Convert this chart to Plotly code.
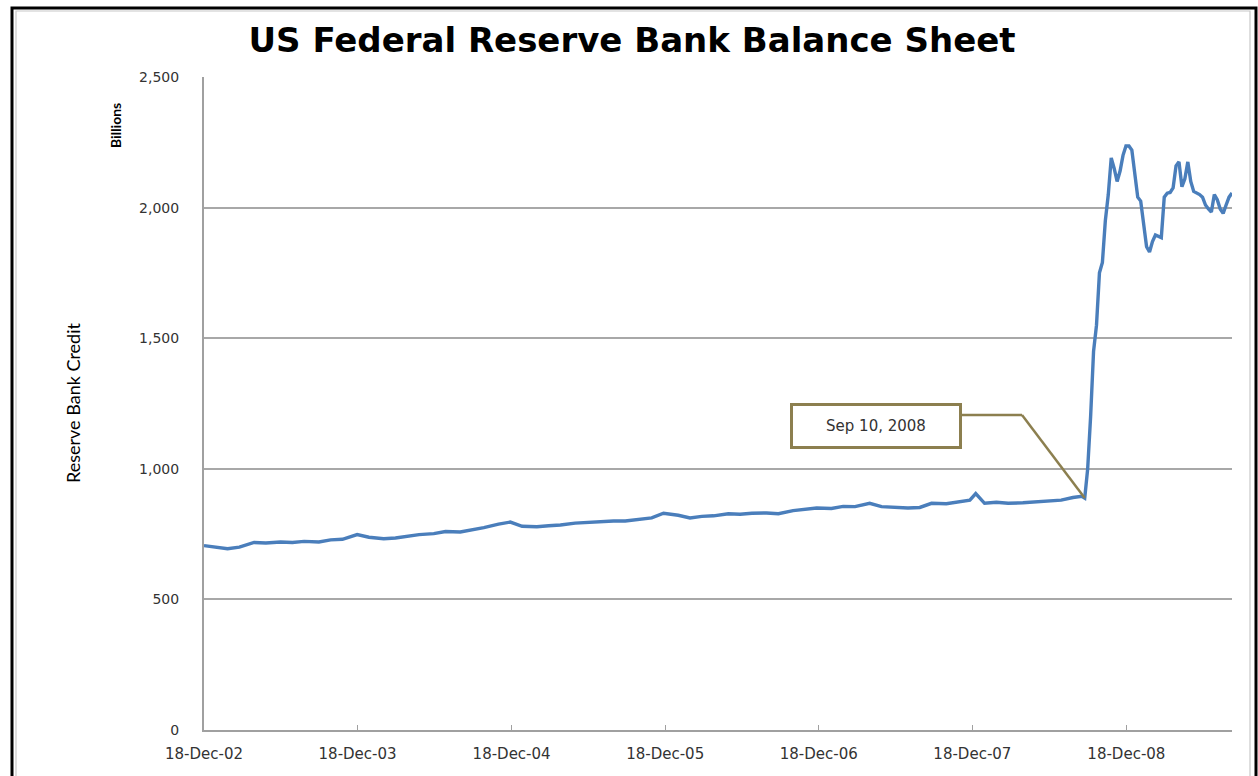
import plotly.graph_objects as go

# ---- data ----
dates_pre = [
    "2002-12-18", "2003-01-15", "2003-02-12", "2003-03-12", "2003-04-16", "2003-05-14",
    "2003-06-18", "2003-07-16", "2003-08-13", "2003-09-17", "2003-10-15", "2003-11-12",
    "2003-12-17", "2004-01-14", "2004-02-18", "2004-03-17", "2004-04-14", "2004-05-12",
    "2004-06-16", "2004-07-14", "2004-08-18", "2004-09-15", "2004-10-13", "2004-11-17",
    "2004-12-15", "2005-01-12", "2005-02-16", "2005-03-16", "2005-04-13", "2005-05-18",
    "2005-06-15", "2005-07-13", "2005-08-17", "2005-09-14", "2005-10-12", "2005-11-16",
    "2005-12-14", "2006-01-18", "2006-02-15", "2006-03-15", "2006-04-12", "2006-05-17",
    "2006-06-14", "2006-07-12", "2006-08-16", "2006-09-13", "2006-10-18", "2006-11-15",
    "2006-12-13", "2007-01-17", "2007-02-14", "2007-03-14", "2007-04-18", "2007-05-16",
    "2007-06-13", "2007-07-18", "2007-08-15", "2007-09-12", "2007-10-17", "2007-11-14",
    "2007-12-12", "2007-12-26", "2008-01-16", "2008-02-13", "2008-03-12", "2008-04-16",
    "2008-05-14", "2008-06-18", "2008-07-16", "2008-08-13", "2008-09-03",
]
values_pre = [
    706, 700, 694, 700, 718, 716,
    720, 718, 722, 720, 728, 730,
    748, 738, 732, 735, 742, 748,
    752, 760, 758, 766, 775, 788,
    796, 780, 778, 782, 785, 792,
    795, 797, 800, 800, 804, 812,
    830, 822, 812, 818, 820, 828,
    826, 830, 831, 828, 840, 845,
    850, 848, 856, 855, 868, 855,
    852, 850, 852, 868, 866, 872,
    880, 905, 868, 872, 868, 870,
    873, 878, 880, 890, 895,
]
dates_crisis = [
    "2008-09-10", "2008-09-17", "2008-09-24", "2008-10-01", "2008-10-08", "2008-10-15",
    "2008-10-22", "2008-10-29", "2008-11-05", "2008-11-12", "2008-11-19", "2008-11-26",
    "2008-12-03", "2008-12-10", "2008-12-17", "2008-12-24", "2008-12-31", "2009-01-07",
    "2009-01-14", "2009-01-21", "2009-01-28", "2009-02-04", "2009-02-11", "2009-02-18",
    "2009-02-25", "2009-03-04", "2009-03-11", "2009-03-18", "2009-03-25", "2009-04-01",
    "2009-04-08", "2009-04-15", "2009-04-22", "2009-04-29", "2009-05-06", "2009-05-13",
    "2009-05-20", "2009-05-27", "2009-06-03", "2009-06-10", "2009-06-17", "2009-06-24",
    "2009-07-01", "2009-07-08", "2009-07-15", "2009-07-22", "2009-07-29", "2009-08-05",
    "2009-08-12", "2009-08-19", "2009-08-26",
]
values_crisis = [
    888, 1000, 1200, 1450, 1550, 1750,
    1790, 1950, 2050, 2190, 2150, 2100,
    2140, 2200, 2236, 2236, 2220, 2120,
    2040, 2025, 1940, 1850, 1830, 1870,
    1895, 1890, 1885, 2040, 2055, 2058,
    2075, 2160, 2175, 2080, 2110, 2175,
    2100, 2062, 2056, 2050, 2040, 2010,
    1995, 1983, 2050, 2030, 1995, 1978,
    2010, 2040, 2056,
]
dates = dates_pre + dates_crisis
values = values_pre + values_crisis

tick_dates = ["2002-12-18", "2003-12-18", "2004-12-18", "2005-12-18",
              "2006-12-18", "2007-12-18", "2008-12-18"]
tick_labels = ["18-Dec-02", "18-Dec-03", "18-Dec-04", "18-Dec-05",
               "18-Dec-06", "18-Dec-07", "18-Dec-08"]
y_ticks = [0, 500, 1000, 1500, 2000, 2500]

event_date = "2008-09-10"
event_value = 888
event_label = "Sep 10, 2008"

# ---- figure ----
W, H = 1258, 776
ML, MR, MT, MB = 204, 26, 77, 46
PW, PH = W - ML - MR, H - MT - MB

def px(x):
    return (x - ML) / PW

def py(y):
    return (H - MB - y) / PH

fig = go.Figure()
fig.add_trace(go.Scatter(
    x=dates, y=values, mode="lines",
    line=dict(color="#4a7ebb", width=3.4),
    hoverinfo="x+y", showlegend=False,
))

olive = "#8c7f4f"
shapes = [
    # outer black frame
    dict(type="rect", xref="paper", yref="paper",
         x0=px(12), x1=px(1256), y0=py(790), y1=py(8),
         line=dict(color="black", width=3), layer="below"),
    # inner thin grey frame
    dict(type="rect", xref="paper", yref="paper",
         x0=px(16), x1=px(1250), y0=py(790), y1=py(11),
         line=dict(color="#c8c8c8", width=1.2), layer="below"),
    # connector: horizontal part from the box
    dict(type="line", xref="paper", yref="paper",
         x0=px(960), x1=px(1022), y0=py(415), y1=py(415),
         line=dict(color=olive, width=2.5)),
    # connector: diagonal to the data point
    dict(type="line", xref="x", yref="y",
         x0="2008-04-14", y0=1206, x1=event_date, y1=event_value,
         line=dict(color=olive, width=2.5)),
]

annotations = [
    dict(text=event_label, xref="paper", yref="paper",
         x=px(876), y=py(426), showarrow=False,
         font=dict(family="DejaVu Sans", size=15, color="#333333"),
         bordercolor=olive, borderwidth=3, borderpad=10,
         bgcolor="white", width=146, height=20),
    dict(text="Reserve Bank Credit", xref="paper", yref="paper",
         x=px(60), y=py(403), showarrow=False, textangle=-90,
         font=dict(family="Lato", size=18, color="black")),
    dict(text="<b>Billions</b>", xref="paper", yref="paper",
         x=px(105), y=py(101), showarrow=False, textangle=-90,
         font=dict(family="Lato", size=14, color="black")),
]

fig.update_layout(
    width=W, height=H,
    margin=dict(l=ML, r=MR, t=MT, b=MB),
    paper_bgcolor="white", plot_bgcolor="white",
    title=dict(text="<b>US Federal Reserve Bank Balance Sheet</b>",
               x=632 / W, xref="container", xanchor="center",
               y=1 - 40 / H, yref="container", yanchor="middle",
               font=dict(family="DejaVu Sans", size=34, color="black")),
    shapes=shapes,
    annotations=annotations,
    xaxis=dict(
        type="date",
        range=["2002-12-18", "2009-08-26"],
        tickvals=tick_dates, ticktext=tick_labels,
        ticks="inside", ticklen=5, tickcolor="#a0a0a0", tickwidth=1,
        ticklabelstandoff=9,
        showgrid=False, zeroline=False,
        showline=True, linecolor="#a0a0a0", linewidth=2,
        tickfont=dict(family="DejaVu Sans", size=15, color="#333333"),
    ),
    yaxis=dict(
        range=[0, 2500],
        tickvals=y_ticks, tickformat=",d",
        ticks="", ticklabelstandoff=20,
        showgrid=True, gridcolor="#a8a8a8", gridwidth=1.5,
        zeroline=False,
        showline=True, linecolor="#a0a0a0", linewidth=2,
        tickfont=dict(family="DejaVu Sans", size=14, color="#333333"),
    ),
)

fig.write_html("out.html")
